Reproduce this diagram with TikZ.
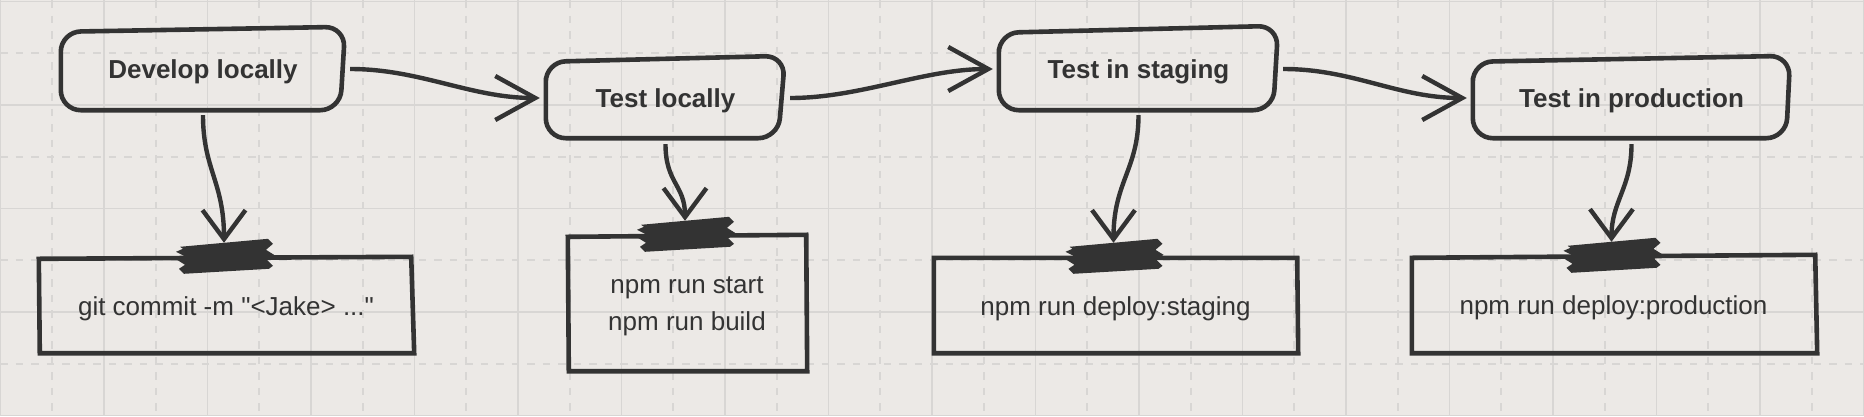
\documentclass[tikz,border=0pt]{standalone}
\usepackage{fontspec}
\setmainfont{Liberation Sans}[Ligatures=TeXOff]
\usetikzlibrary{arrows.meta}
\definecolor{ink}{HTML}{333333}
\definecolor{paper}{HTML}{ECE9E6}
\definecolor{gridc}{HTML}{D8D6D4}
\begin{document}
\begin{tikzpicture}[x=1pt,y=-1pt,
  stage/.style={font=\bfseries\fontsize{26}{31}\selectfont, text=ink, inner sep=0pt,
     text height=19pt, text depth=0pt, minimum height=80pt},
  cmd/.style={font=\fontsize{26}{37.5}\selectfont, text=ink, inner sep=0pt, align=center,
     text depth=0pt},
  rough/.style={draw=ink, line width=4.6pt, rounded corners=20pt},
  plainbox/.style={draw=ink, line width=4.6pt, line join=miter},
  flow/.style={draw=ink, line width=4.4pt, shorten <=5pt, shorten >=6pt,
     -{Straight Barb[length=40pt,width=44pt]}},
  drop/.style={draw=ink, line width=4.4pt, shorten <=6pt, shorten >=14pt,
     -{Straight Barb[length=29pt,width=43pt]}},
  gridsolid/.style={draw=gridc, line width=1.8pt},
  griddash/.style={draw=gridc, line width=1.8pt, dash pattern=on 7.5pt off 8pt},
  tapestrip/.pic={
    \fill[ink] (-44,-10) -- (44,-18) -- (49,-13) -- (42,-7) -- (50,-2) -- (43,3)
      -- (49,9) -- (45,12) -- (-40,17) -- (-45,12) -- (-39,8) -- (-47,3)
      -- (-40,-1) -- (-48,-5) -- (-41,-8) -- cycle;
  },
]
\useasboundingbox (0,0) rectangle (1864,416);
\fill[paper] (0,0) rectangle (1864,416);
% grid
\foreach \i in {0,...,17} \draw[griddash] ({52.25+103.5*\i},0) -- ++(0,416);
\foreach \j in {0,...,3} \draw[griddash] (0,{53.25+103.5*\j}) -- ++(1864,0);
\foreach \i in {0,...,18} \draw[gridsolid] ({0.5+103.5*\i},0) -- ++(0,416);
\foreach \j in {0,...,4} \draw[gridsolid] (0,{1.5+103.5*\j}) -- ++(1864,0);

% stage nodes
\node[stage, minimum width=284pt] (dev) at (203,69) {Develop locally};
\node[stage, minimum width=239pt] (tl) at (665.5,98) {Test locally};
\node[stage, minimum width=279pt] (st) at (1138.5,69) {Test in staging};
\node[stage, minimum width=317pt] (pr) at (1631.5,98) {Test in production};

% command nodes
\node[cmd, text height=19pt, minimum width=374pt, minimum height=95pt] (c1) at (226,305.5) {git commit -m "<Jake> ..."};
\node[cmd, minimum width=238pt, minimum height=135pt] (c2) at (687,303.5) {npm run start\\npm run build};
\node[cmd, text height=19pt, minimum width=363pt, minimum height=95pt] (c3) at (1115.5,305.5) {npm run deploy:staging};
\node[cmd, text height=19pt, minimum width=403pt, minimum height=96pt] (c4) at (1613.5,305) {npm run deploy:production};

% rough rounded outlines
\draw[rough] (dev.west) -- ([shift={(0,3)}]dev.north west) -- ([shift={(0,-2)}]dev.north east)
  -- ([shift={(-5,1)}]dev.south east) -- ([shift={(0,1)}]dev.south west) -- cycle;
\draw[rough] (tl.west) -- ([shift={(0,4)}]tl.north west) -- ([shift={(0,-2)}]tl.north east)
  -- ([shift={(-7,0)}]tl.south east) -- (tl.south west) -- cycle;
\draw[rough] (st.west) -- ([shift={(0,4)}]st.north west) -- ([shift={(0,-3)}]st.north east)
  -- ([shift={(-5,1)}]st.south east) -- ([shift={(0,1)}]st.south west) -- cycle;
\draw[rough] (pr.west) -- ([shift={(0,4)}]pr.north west) -- ([shift={(0,-2)}]pr.north east)
  -- ([shift={(-4,0)}]pr.south east) -- (pr.south west) -- cycle;

% command outlines
\draw[plainbox] ([shift={(0,1)}]c1.north west) -- ([shift={(-2,-1)}]c1.north east)
  -- ([shift={(1,0)}]c1.south east) -- ([shift={(1,0)}]c1.south west) -- cycle;
\draw[plainbox] ([shift={(0,1)}]c2.north west) -- ([shift={(0,-1)}]c2.north east)
  -- ([shift={(1,0)}]c2.south east) -- ([shift={(1,0)}]c2.south west) -- cycle;
\draw[plainbox] (c3.north west) -- (c3.north east)
  -- ([shift={(1,0)}]c3.south east) -- (c3.south west) -- cycle;
\draw[plainbox] ([shift={(0,1)}]c4.north west) -- ([shift={(0,-2)}]c4.north east)
  -- ([shift={(2,0)}]c4.south east) -- (c4.south west) -- cycle;

% tape pieces
\coordinate (k1) at ([shift={(-2,-1)}]c1.north);
\coordinate (k2) at ([shift={(-2,-1)}]c2.north);
\coordinate (k3) at ([shift={(-2,-1)}]c3.north);
\coordinate (k4) at ([shift={(-2,-1)}]c4.north);
\pic at (k1) {tapestrip};
\pic at (k2) {tapestrip};
\pic at (k3) {tapestrip};
\pic at (k4) {tapestrip};

% flow connectors
\draw[flow] (dev.east) .. controls +(75,0) and +(-75,0) .. (tl.west);
\draw[flow] (tl.east) .. controls +(75,0) and +(-75,0) .. (st.west);
\draw[flow] (st.east) .. controls +(75,0) and +(-75,0) .. (pr.west);

% drop connectors
\draw[drop] (dev.south) .. controls +(0,60) and +(0,-75) .. (k1);
\draw[drop] (tl.south) .. controls +(0,45) and +(0,-50) .. (k2);
\draw[drop] (st.south) .. controls +(0,60) and +(0,-75) .. (k3);
\draw[drop] (pr.south) .. controls +(0,50) and +(0,-55) .. (k4);
\end{tikzpicture}
\end{document}
